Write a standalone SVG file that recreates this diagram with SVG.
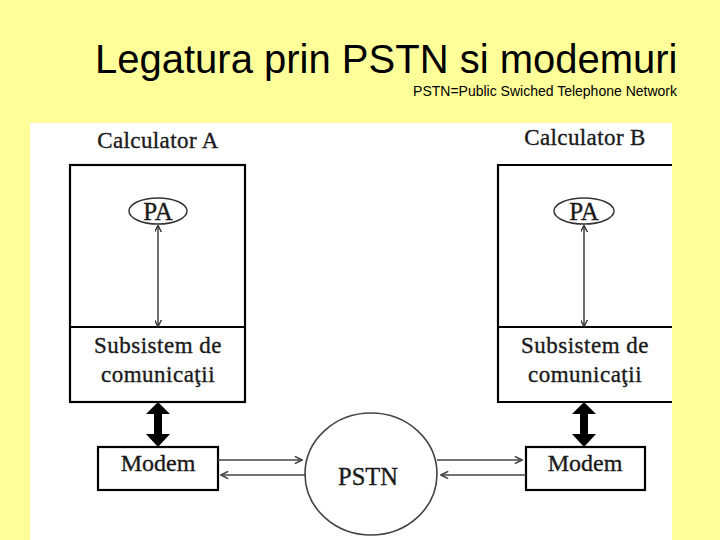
<svg xmlns="http://www.w3.org/2000/svg" width="720" height="540" viewBox="0 0 720 540">
<defs>
<style>
.serif{font-family:"Liberation Serif","Times New Roman",serif;fill:#1a1a1a;stroke:#1a1a1a;stroke-width:0.35;text-anchor:middle}
.box{fill:none;stroke:#000;stroke-width:2.2}
.thin{stroke:#333;stroke-width:1.4;fill:none}
.link{stroke:#444;stroke-width:1.6;fill:none}
</style>
<marker id="ah" viewBox="0 0 10 10" refX="9" refY="5" markerWidth="7" markerHeight="7" markerUnits="userSpaceOnUse" orient="auto-start-reverse">
<path d="M0,0 L10,5 L0,10" fill="none" stroke="#333" stroke-width="2"/>
</marker>
<marker id="ah2" viewBox="0 0 10 10" refX="9" refY="5" markerWidth="9" markerHeight="9" markerUnits="userSpaceOnUse" orient="auto-start-reverse">
<path d="M1,1 L9,5 L1,9" fill="none" stroke="#444" stroke-width="1.8"/>
</marker>
</defs>
<rect width="720" height="540" fill="#FFFF99"/>
<text x="95" y="73" font-family="'Liberation Sans',Arial,sans-serif" font-size="40" fill="#000">Legatura prin PSTN si modemuri</text>
<text x="677" y="96" font-family="'Liberation Sans',Arial,sans-serif" font-size="14" fill="#000" text-anchor="end">PSTN=Public Swiched Telephone Network</text>
<rect x="30" y="123" width="642" height="417" fill="#fff"/>

<g id="calcA">
<text class="serif" x="158" y="148" font-size="23" letter-spacing="0.4">Calculator A</text>
<rect class="box" x="70" y="165" width="175" height="237"/>
<line class="box" x1="70" y1="327" x2="245" y2="327"/>
<text class="serif" x="158" y="353" font-size="23" letter-spacing="0.5">Subsistem de</text>
<text class="serif" x="158" y="382" font-size="23" letter-spacing="0.5">comunicaţii</text>
</g>
<g id="paA">
<ellipse cx="158" cy="211" rx="29" ry="13" fill="#fff" stroke="#333" stroke-width="1.5"/>
<text class="serif" x="158" y="220" font-size="25">PA</text>
</g>

<g id="calcB">
<text class="serif" x="585" y="145" font-size="23" letter-spacing="0.4">Calculator B</text>
<path class="box" d="M672,165 H498 V402 H672 M498,327 H672"/>
<text class="serif" x="585" y="353" font-size="23" letter-spacing="0.5">Subsistem de</text>
<text class="serif" x="585" y="382" font-size="23" letter-spacing="0.5">comunicaţii</text>
</g>
<g id="paB">
<ellipse cx="584" cy="211" rx="30" ry="13" fill="#fff" stroke="#333" stroke-width="1.5"/>
<text class="serif" x="584" y="220" font-size="25">PA</text>
</g>

<g id="modemA">
<rect class="box" x="98" y="447" width="120" height="43" fill="#fff"/>
<text class="serif" x="158" y="471" font-size="24">Modem</text>
</g>
<g id="modemB">
<rect class="box" x="526" y="447" width="119" height="43" fill="#fff"/>
<text class="serif" x="585" y="471" font-size="24">Modem</text>
</g>
<g id="pstn">
<ellipse cx="371" cy="474" rx="66" ry="61" fill="#fff" stroke="#444" stroke-width="1.6"/>
<text class="serif" x="368" y="485" font-size="24.5">PSTN</text>
</g>

<g id="connectors">
<line class="thin" x1="158" y1="226" x2="158" y2="326" marker-start="url(#ah)" marker-end="url(#ah)"/>
<line class="thin" x1="584" y1="226" x2="584" y2="326" marker-start="url(#ah)" marker-end="url(#ah)"/>
<path d="M158,402 L146,414 H154 V434 H146 L158,447 L170,434 H162 V414 H170 Z" fill="#000"/>
<path d="M584,402 L572,414 H580 V434 H572 L584,447 L596,434 H588 V414 H596 Z" fill="#000"/>
<line class="link" x1="218" y1="460" x2="302" y2="460" marker-end="url(#ah2)"/>
<line class="link" x1="306" y1="475" x2="221" y2="475" marker-end="url(#ah2)"/>
<line class="link" x1="437" y1="460" x2="522" y2="460" marker-end="url(#ah2)"/>
<line class="link" x1="526" y1="475" x2="441" y2="475" marker-end="url(#ah2)"/>
</g>
</svg>
